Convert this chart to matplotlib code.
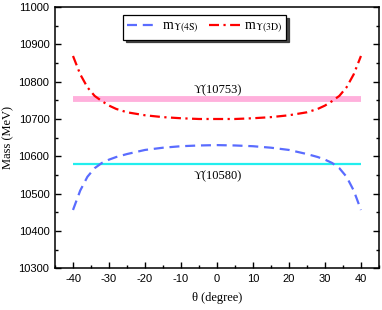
import numpy as np
import matplotlib.pyplot as plt
from matplotlib.ticker import MultipleLocator

plt.rcParams['mathtext.fontset'] = 'stix'
plt.rcParams['axes.unicode_minus'] = False

# values
theta = [-40, -38, -36, -34, -32, -30, -28, -25, -20, -15, -10, -5, 0,
         5, 10, 15, 20, 25, 28, 30, 32, 34, 36, 38, 40]
m_3d = [10869, 10820, 10785, 10762, 10748, 10736, 10727, 10718, 10710, 10705, 10702, 10700, 10700,
        10700, 10702, 10705, 10710, 10718, 10727, 10736, 10748, 10762, 10785, 10820, 10869]
m_4s = [10456, 10508, 10545, 10568, 10582, 10591, 10598, 10606, 10617, 10623, 10627, 10629, 10630,
        10629, 10627, 10623, 10617, 10606, 10598, 10591, 10582, 10568, 10545, 10508, 10456]
exp_4s = 10580
exp_10753 = 10753
band_x = [-40, 40]

serif = ['Liberation Serif', 'DejaVu Serif']

fig = plt.figure(figsize=(3.82, 3.10), dpi=100)
ax = fig.add_axes([0.144, 0.135, 0.848, 0.842])

ax.plot(band_x, [exp_10753, exp_10753], color='#ffb0dc', lw=4.2, solid_capstyle='butt', zorder=1)
ax.plot(band_x, [exp_4s, exp_4s], color='#22eeee', lw=1.6, solid_capstyle='butt', zorder=1)

ax.plot(theta, m_4s, color='#5a6cff', lw=1.6, linestyle=(0, (4.5, 2.6)),
        label=r'm$_{\mathrm{\Upsilon(4S)}}$', zorder=3)
ax.plot(theta, m_3d, color='#ff0000', lw=1.6, linestyle=(0, (4.5, 2.0, 1.0, 2.0)),
        label=r'm$_{\mathrm{\Upsilon(3D)}}$', zorder=3)

ax.text(0.2, 10777, 'ϒ(10753)', ha='center', va='center', fontsize=9, family=serif)
ax.text(0.2, 10547, 'ϒ(10580)', ha='center', va='center', fontsize=9, family=serif)

ax.set_xlim(-45, 45)
ax.set_ylim(10300, 11000)
ax.xaxis.set_major_locator(MultipleLocator(10))
ax.xaxis.set_minor_locator(MultipleLocator(5))
ax.yaxis.set_major_locator(MultipleLocator(100))
ax.yaxis.set_minor_locator(MultipleLocator(50))
ax.tick_params(which='both', direction='in', right=True, top=False, labelsize=8, width=1)
ax.tick_params(which='major', length=4, pad=4)
ax.tick_params(which='minor', length=2)
for lab in ax.get_xticklabels() + ax.get_yticklabels():
    lab.set_family(['Liberation Sans', 'DejaVu Sans'])
for s in ax.spines.values():
    s.set_linewidth(1.1)

ax.set_xlabel('θ (degree)', fontsize=9, family=serif, labelpad=6)
ax.set_ylabel('Mass (MeV)', fontsize=9, family=serif, labelpad=3)

leg = ax.legend(loc='upper center', bbox_to_anchor=(0.462, 0.968), ncol=2, frameon=True,
                fancybox=False, shadow={'color': '#333333', 'alpha': 0.9}, edgecolor='k',
                fontsize=10, handlelength=2.2, columnspacing=0.8, handletextpad=0.3,
                borderpad=0.3, borderaxespad=0)
leg.get_frame().set_linewidth(0.9)
for t in leg.get_texts():
    t.set_family(serif)

fig.savefig('out.png', dpi=100)
